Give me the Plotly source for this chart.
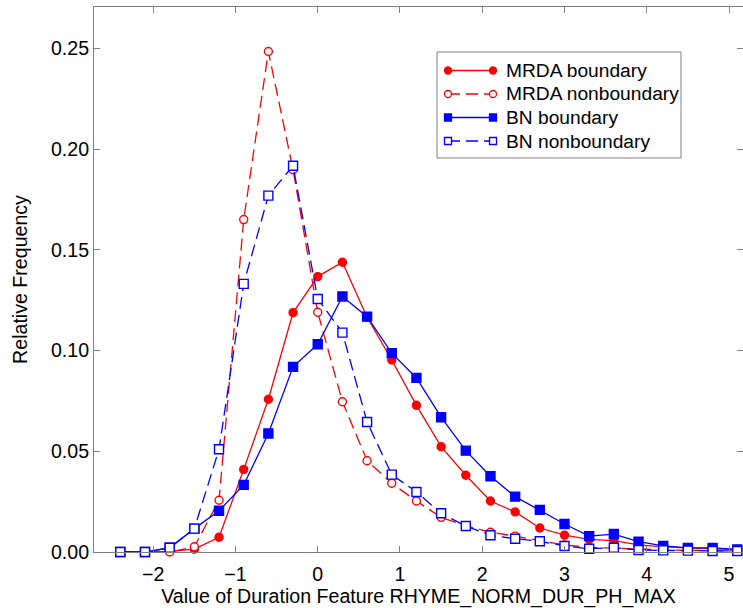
import plotly.graph_objects as go

# Bin centres of the duration feature
feature_value = [-2.4, -2.1, -1.8, -1.5, -1.2, -0.9, -0.6, -0.3, 0.0, 0.3,
                 0.6, 0.9, 1.2, 1.5, 1.8, 2.1, 2.4, 2.7, 3.0, 3.3,
                 3.6, 3.9, 4.2, 4.5, 4.8, 5.1]

# Relative frequencies per corpus / class
mrda_boundary = [0.0, 0.0, 0.0003, 0.0014, 0.0073, 0.0410, 0.0758, 0.1188, 0.1367, 0.1438,
                 0.1165, 0.0953, 0.0728, 0.0523, 0.0381, 0.0253, 0.0199, 0.0119, 0.0084, 0.0063,
                 0.0056, 0.0035, 0.0025, 0.0020, 0.0015, 0.0012]
mrda_nonboundary = [0.0, 0.0, 0.0, 0.0026, 0.0257, 0.1650, 0.2484, 0.1897, 0.1190, 0.0746,
                    0.0453, 0.0341, 0.0253, 0.0172, 0.0130, 0.0098, 0.0079, 0.0056, 0.0035, 0.0023,
                    0.0020, 0.0015, 0.0010, 0.0008, 0.0006, 0.0005]
bn_boundary = [0.0, 0.0, 0.0021, 0.0116, 0.0205, 0.0333, 0.0588, 0.0919, 0.1031, 0.1268,
               0.1168, 0.0987, 0.0864, 0.0669, 0.0503, 0.0376, 0.0275, 0.0209, 0.0139, 0.0079,
               0.0089, 0.0051, 0.0030, 0.0020, 0.0020, 0.0013]
bn_nonboundary = [0.0, 0.0, 0.0021, 0.0116, 0.0510, 0.1331, 0.1769, 0.1917, 0.1256, 0.1089,
                  0.0645, 0.0384, 0.0298, 0.0192, 0.0129, 0.0083, 0.0066, 0.0053, 0.0030, 0.0016,
                  0.0021, 0.0010, 0.0008, 0.0007, 0.0005, 0.0005]

series_names = ["MRDA boundary", "MRDA nonboundary", "BN boundary", "BN nonboundary"]
x_tick_values = [-2, -1, 0, 1, 2, 3, 4, 5]
y_tick_values = [0.00, 0.05, 0.10, 0.15, 0.20, 0.25]

RED = "#ff0000"
BLUE = "#0000ff"
FONT = "Liberation Sans, Arial, sans-serif"
FS = 19.6
DASH = "12px,6px"

styles = [
    dict(color=RED, dash="solid", symbol="circle", fill=RED, size=8),
    dict(color=RED, dash=DASH, symbol="circle", fill="white", size=8),
    dict(color=BLUE, dash="solid", symbol="square", fill=BLUE, size=9),
    dict(color=BLUE, dash=DASH, symbol="square", fill="white", size=9),
]
series_values = [mrda_boundary, mrda_nonboundary, bn_boundary, bn_nonboundary]

fig = go.Figure()
for name, values, st in zip(series_names, series_values, styles):
    fig.add_trace(go.Scatter(
        x=feature_value, y=values, name=name, mode="lines+markers",
        line=dict(color=st["color"], width=1.3, dash=st["dash"]),
        marker=dict(symbol=st["symbol"], size=st["size"], color=st["fill"],
                    line=dict(color=st["color"], width=1.4)),
        cliponaxis=False, showlegend=False,
    ))

# Plot area in pixels (used to place the hand-built legend)
W, H = 743, 608
ML, MR, MT, MB = 94, 0, 7, 56
PX0, PX1 = ML, W - MR
PY0, PY1 = MT, H - MB


def px(x):
    return (x - PX0) / (PX1 - PX0)


def py(y):
    return (PY1 - y) / (PY1 - PY0)


shapes = []
annotations = []
# legend frame
shapes.append(dict(type="rect", xref="paper", yref="paper",
                   x0=px(437), x1=px(681), y0=py(52), y1=py(158),
                   line=dict(color="#808080", width=1), fillcolor="white", layer="above"))
row_y = [70.5, 94, 117.5, 141]
for name, st, yy in zip(series_names, styles, row_y):
    xa, xb = 448, 493
    shapes.append(dict(type="line", xref="paper", yref="paper",
                       x0=px(xa), x1=px(xb), y0=py(yy), y1=py(yy),
                       line=dict(color=st["color"], width=1.3, dash=st["dash"]),
                       layer="above"))
    r = st["size"] / 2 - 0.5 if st["symbol"] == "circle" else st["size"] / 2 - 1
    for xc in (xa, xb):
        shapes.append(dict(type="circle" if st["symbol"] == "circle" else "rect",
                           xref="paper", yref="paper",
                           x0=px(xc - r), x1=px(xc + r), y0=py(yy - r), y1=py(yy + r),
                           line=dict(color=st["color"], width=1.3),
                           fillcolor=st["fill"], layer="above"))
    annotations.append(dict(xref="paper", yref="paper", x=px(504), y=py(yy),
                            xanchor="left", yanchor="middle", showarrow=False,
                            text=name, font=dict(family=FONT, size=19.2, color="black")))

axis_common = dict(
    showline=True, linecolor="#808080", linewidth=1, mirror="allticks",
    ticks="inside", ticklen=6, tickcolor="#808080", tickwidth=1,
    showgrid=False, zeroline=False,
    tickfont=dict(family=FONT, size=FS, color="black"),
)

fig.update_layout(
    width=W, height=H,
    margin=dict(l=ML, r=MR, t=MT, b=MB),
    paper_bgcolor="white", plot_bgcolor="white",
    font=dict(family=FONT, size=FS, color="black"),
    shapes=shapes, annotations=annotations,
    xaxis=dict(range=[-2.72, 5.17], tickvals=x_tick_values, ticklabelstandoff=4,
               title=dict(text="Value of Duration Feature RHYME_NORM_DUR_PH_MAX",
                          font=dict(family=FONT, size=FS, color="black"), standoff=2),
               **axis_common),
    yaxis=dict(range=[0, 0.2705], tickvals=y_tick_values, tickformat=".2f",
               title=dict(text="Relative Frequency",
                          font=dict(family=FONT, size=FS, color="black"), standoff=18),
               **axis_common),
)

fig.write_html("out.html")
